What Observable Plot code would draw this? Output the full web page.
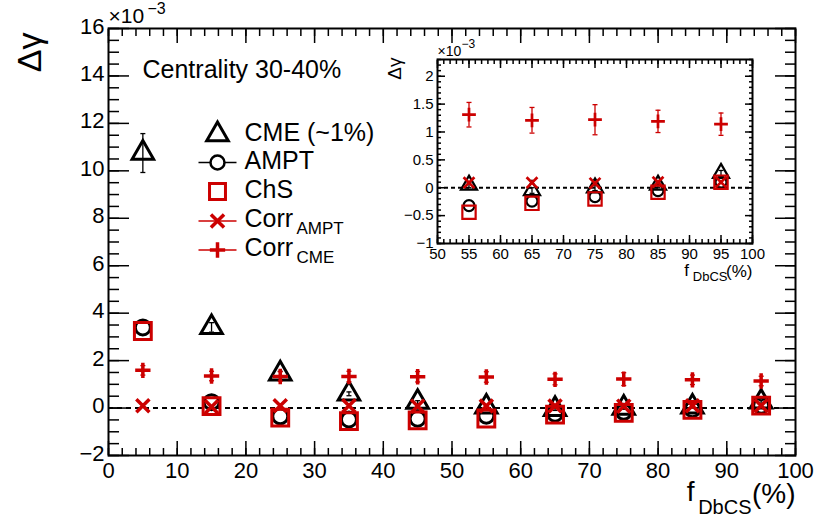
<!DOCTYPE html>
<html><head><meta charset="utf-8">
<script src="https://cdn.jsdelivr.net/npm/d3@7"></script>
<script src="https://cdn.jsdelivr.net/npm/@observablehq/plot@0.6"></script>
<style>
body{margin:0;background:#fff;}
#wrap{position:relative;width:830px;height:520px;overflow:hidden;}
#main{position:absolute;left:0;top:0;}
#inset{position:absolute;left:380px;top:20px;}
</style></head><body><div id="wrap"><div id="main"></div><div id="inset"></div></div>
<script>
// ---- data (Δγ in units of 10^-3) ----
const fDbCS      = [5, 15, 25, 35, 45, 55, 65, 75, 85, 95];
const cme        = [10.75, 3.4, 1.45, 0.6, 0.25, 0.05, -0.05, 0.0, 0.05, 0.26];
const cmeErr     = [0.82, 0.2, 0.1, 0.08, 0.06, 0.05, 0.05, 0.05, 0.05, 0.05];
const ampt       = [3.4, 0.25, -0.35, -0.48, -0.45, -0.32, -0.24, -0.16, -0.05, 0.1];
const chs        = [3.25, 0.08, -0.4, -0.55, -0.52, -0.44, -0.28, -0.2, -0.08, 0.1];
const corrAmpt   = [0.1, 0.05, 0.1, 0.1, 0.08, 0.09, 0.09, 0.08, 0.1, 0.1];
const corrCme    = [1.59, 1.35, 1.33, 1.33, 1.32, 1.31, 1.21, 1.22, 1.19, 1.14];
const corrCmeErr = [0.2, 0.2, 0.2, 0.22, 0.22, 0.22, 0.23, 0.27, 0.2, 0.2];

// ---- tick values ----
const mainXMajor = [0, 10, 20, 30, 40, 50, 60, 70, 80, 90, 100];
const mainXMinor = d3.range(0, 100.1, 2);
const mainYMajor = [-2, 0, 2, 4, 6, 8, 10, 12, 14, 16];
const mainYMinor = d3.range(-2, 16.01, 0.5);
const insetXMajor = [50, 55, 60, 65, 70, 75, 80, 85, 90, 95, 100];
const insetXMinor = d3.range(50, 100.1, 1);
const insetYMajor = [-1, -0.5, 0, 0.5, 1, 1.5, 2];
const insetYMinor = d3.range(-1, 2.301, 0.1);

// ---- legend ----
const legendNames = ["CME (~1%)", "AMPT", "ChS", "Corr", "Corr"];
const legendSubs  = ["", "", "", "AMPT", "CME"];

const red = "#cc0000";
const font = "'Liberation Sans', Arial, Helvetica, sans-serif";
const fmt = d => (d < 0 ? "\u2212" : "") + Math.abs(d);

const rows = fDbCS.map((x, i) => ({
  x, cme: cme[i], cmeErr: cmeErr[i], ampt: ampt[i], chs: chs[i],
  corrAmpt: corrAmpt[i], corrCme: corrCme[i], corrCmeErr: corrCmeErr[i]
}));

const hline = { draw(ctx, size) { const r = Math.sqrt(size / Math.PI); ctx.moveTo(-r, 0); ctx.lineTo(r, 0); } };

function tickAxes(xMaj, xMin, yMaj, yMin, xl, xs, yl, ys) {
  const none = () => "";
  return [
    Plot.axisX(xMaj, {anchor: "bottom", tickSize: -xl, tickFormat: none, label: null, strokeWidth: 1.5}),
    Plot.axisX(xMin, {anchor: "bottom", tickSize: -xs, tickFormat: none, label: null, strokeWidth: 1.5}),
    Plot.axisX(xMaj, {anchor: "top", tickSize: -xl, tickFormat: none, label: null, strokeWidth: 1.5}),
    Plot.axisX(xMin, {anchor: "top", tickSize: -xs, tickFormat: none, label: null, strokeWidth: 1.5}),
    Plot.axisY(yMaj, {anchor: "left", tickSize: -yl, tickFormat: none, label: null, strokeWidth: 1.5}),
    Plot.axisY(yMin, {anchor: "left", tickSize: -ys, tickFormat: none, label: null, strokeWidth: 1.5}),
    Plot.axisY(yMaj, {anchor: "right", tickSize: -yl, tickFormat: none, label: null, strokeWidth: 1.5}),
    Plot.axisY(yMin, {anchor: "right", tickSize: -ys, tickFormat: none, label: null, strokeWidth: 1.5})
  ];
}

function seriesMarks(data, s) {
  return [
    Plot.ruleY([0], {strokeDasharray: s.dash, strokeWidth: 2}),
    Plot.ruleX(data, {x: "x", y1: d => d.cme - d.cmeErr, y2: d => d.cme + d.cmeErr, stroke: "black", strokeWidth: 1.3}),
    Plot.dot(data, {x: "x", y: d => d.cme + d.cmeErr, symbol: hline, r: 2.5, stroke: "black", strokeWidth: 1.3}),
    Plot.dot(data, {x: "x", y: d => d.cme - d.cmeErr, symbol: hline, r: 2.5, stroke: "black", strokeWidth: 1.3}),
    Plot.dot(data, {x: "x", y: "cme", symbol: "triangle", r: s.tri, stroke: "black", strokeWidth: s.sw, fill: "none"}),
    Plot.dot(data, {x: "x", y: "ampt", symbol: "circle", r: s.circ, stroke: "black", strokeWidth: s.sw, fill: "none"}),
    Plot.dot(data, {x: "x", y: "chs", symbol: "square", r: s.sq, stroke: red, strokeWidth: s.sw, fill: "none"}),
    Plot.dot(data, {x: "x", y: "corrAmpt", symbol: "times", r: s.times, stroke: red, strokeWidth: s.sw + 0.5}),
    Plot.ruleX(data, {x: "x", y1: d => d.corrCme - d.corrCmeErr, y2: d => d.corrCme + d.corrCmeErr, stroke: red, strokeWidth: 1.3}),
    Plot.dot(data, {x: "x", y: d => d.corrCme + d.corrCmeErr, symbol: hline, r: 2.5, stroke: red, strokeWidth: 1.3}),
    Plot.dot(data, {x: "x", y: d => d.corrCme - d.corrCmeErr, symbol: hline, r: 2.5, stroke: red, strokeWidth: 1.3}),
    Plot.dot(data, {x: "x", y: "corrCme", symbol: "plus", r: s.plus, stroke: red, strokeWidth: s.sw + 0.5})
  ];
}

// ---- legend marks ----
const legRowDy = [106, 134, 163, 192.5, 221.5];
const legMarkDx = 109, legTextDx = 136;
const legendMarks = [];
legendNames.forEach((name, i) => {
  const dy = legRowDy[i];
  const base = {frameAnchor: "top-left", dx: legMarkDx, dy};
  if (i === 0) legendMarks.push(Plot.dot([name], {...base, symbol: "triangle", r: 8, stroke: "black", strokeWidth: 3, fill: "none"}));
  if (i === 1) {
    legendMarks.push(Plot.dot([name], {...base, symbol: hline, r: 19, stroke: "black", strokeWidth: 1.5}));
    legendMarks.push(Plot.dot([name], {...base, symbol: "circle", r: 7, stroke: "black", strokeWidth: 2.5, fill: "white"}));
  }
  if (i === 2) legendMarks.push(Plot.dot([name], {...base, symbol: "square", r: 9, stroke: red, strokeWidth: 3, fill: "none"}));
  if (i === 3) {
    legendMarks.push(Plot.dot([name], {...base, symbol: hline, r: 19, stroke: red, strokeWidth: 1.5}));
    legendMarks.push(Plot.dot([name], {...base, symbol: "times", r: 6, stroke: red, strokeWidth: 3.5}));
  }
  if (i === 4) {
    legendMarks.push(Plot.dot([name], {...base, symbol: hline, r: 19, stroke: red, strokeWidth: 1.5}));
    legendMarks.push(Plot.dot([name], {...base, symbol: "plus", r: 5, stroke: red, strokeWidth: 3.5}));
  }
  legendMarks.push(Plot.text([name], {text: d => d, frameAnchor: "top-left", dx: legTextDx, dy: dy - 2, textAnchor: "start", lineAnchor: "middle", fontSize: 25}));
  if (legendSubs[i]) legendMarks.push(Plot.text([legendSubs[i]], {text: d => d, frameAnchor: "top-left", dx: 188, dy: dy + 8, textAnchor: "start", lineAnchor: "middle", fontSize: 17}));
});

// ---- main plot ----
const mainPlot = Plot.plot({
  width: 830, height: 520,
  marginLeft: 108, marginRight: 35, marginTop: 28, marginBottom: 65,
  style: {fontFamily: font, background: "white", color: "black"},
  x: {domain: [0, 100]},
  y: {domain: [-2, 16]},
  marks: [
    ...tickAxes(mainXMajor, mainXMinor, mainYMajor, mainYMinor, 14, 7, 21, 11),
    Plot.axisX(mainXMajor, {tickSize: 0, tickPadding: 7, fontSize: 22, tickFormat: fmt, label: null}),
    Plot.axisY(mainYMajor, {tickSize: 0, tickPadding: 4, fontSize: 22, tickFormat: fmt, label: null, dy: -2}),
    ...seriesMarks(rows, {dash: "5,4", tri: 8, circ: 7.5, sq: 9.5, times: 6, plus: 5, sw: 3}),
    ...legendMarks,
    Plot.text(["Centrality 30-40%"], {text: d => d, frameAnchor: "top-left", dx: 34, dy: 41, textAnchor: "start", lineAnchor: "middle", fontSize: 25}),
    Plot.text(["\u00d710"], {text: d => d, frameAnchor: "top-left", dx: 0, dy: -12, textAnchor: "start", lineAnchor: "middle", fontSize: 21}),
    Plot.text(["\u22123"], {text: d => d, frameAnchor: "top-left", dx: 39, dy: -20, textAnchor: "start", lineAnchor: "middle", fontSize: 16}),
    Plot.text(["\u0394\u03b3"], {text: d => d, frameAnchor: "top-left", dx: -78, dy: 4, rotate: -90, textAnchor: "end", lineAnchor: "middle", fontSize: 34}),
    Plot.text(["(%)"], {text: d => d, frameAnchor: "bottom-right", dx: 0, dy: 39, textAnchor: "end", lineAnchor: "middle", fontSize: 28}),
    Plot.text(["DbCS"], {text: d => d, frameAnchor: "bottom-right", dx: -44, dy: 52, textAnchor: "end", lineAnchor: "middle", fontSize: 20}),
    Plot.text(["f"], {text: d => d, frameAnchor: "bottom-right", dx: -101, dy: 37, textAnchor: "end", lineAnchor: "middle", fontSize: 28}),
    Plot.frame({strokeWidth: 2})
  ]
});
document.getElementById("main").appendChild(mainPlot);

// ---- inset plot ----
const insetRows = rows.filter(d => d.x > 50);
const insetPlot = Plot.plot({
  width: 400, height: 265,
  marginLeft: 57, marginRight: 28, marginTop: 39, marginBottom: 42,
  style: {fontFamily: font, background: "transparent", color: "black", overflow: "visible"},
  x: {domain: [50, 100]},
  y: {domain: [-1, 2.3]},
  marks: [
    Plot.frame({fill: "white", stroke: "none"}),
    ...tickAxes(insetXMajor, insetXMinor, insetYMajor, insetYMinor, 8, 4, 8, 4),
    Plot.axisX(insetXMajor, {tickSize: 0, tickPadding: 5, fontSize: 15, tickFormat: fmt, label: null}),
    Plot.axisY(insetYMajor, {tickSize: 0, tickPadding: 4, fontSize: 15, tickFormat: fmt, label: null}),
    ...seriesMarks(insetRows, {dash: "4,3", tri: 6, circ: 5.5, sq: 7.5, times: 5, plus: 4.5, sw: 2.2}),
    Plot.text(["\u00d710"], {text: d => d, frameAnchor: "top-left", dx: 0, dy: -8, textAnchor: "start", lineAnchor: "middle", fontSize: 14}),
    Plot.text(["\u22123"], {text: d => d, frameAnchor: "top-left", dx: 24, dy: -15, textAnchor: "start", lineAnchor: "middle", fontSize: 12}),
    Plot.text(["\u0394\u03b3"], {text: d => d, frameAnchor: "top-left", dx: -43, dy: -2, rotate: -90, textAnchor: "end", lineAnchor: "middle", fontSize: 19}),
    Plot.text(["(%)"], {text: d => d, frameAnchor: "bottom-right", dx: 0, dy: 28, textAnchor: "end", lineAnchor: "middle", fontSize: 17}),
    Plot.text(["DbCS"], {text: d => d, frameAnchor: "bottom-right", dx: -25, dy: 33, textAnchor: "end", lineAnchor: "middle", fontSize: 13}),
    Plot.text(["f"], {text: d => d, frameAnchor: "bottom-right", dx: -63.5, dy: 27, textAnchor: "end", lineAnchor: "middle", fontSize: 17}),
    Plot.frame({strokeWidth: 2})
  ]
});
document.getElementById("inset").appendChild(insetPlot);
</script></body></html>
